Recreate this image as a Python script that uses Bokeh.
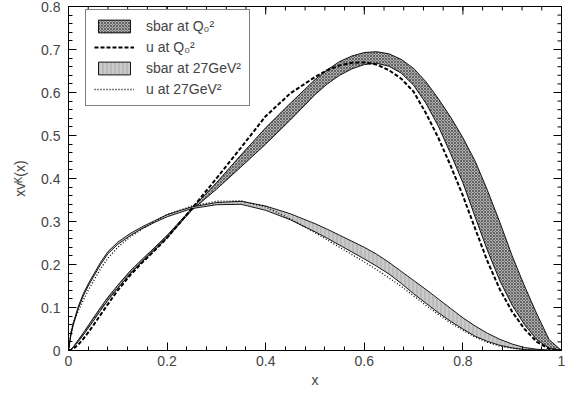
import math
from bokeh.plotting import figure
from bokeh.models import Legend, LegendItem, SingleIntervalTicker, CustomJSTickFormatter, Range1d
from bokeh.embed import file_html
from bokeh.resources import INLINE

# ---- data ----
x = [0, 0.005, 0.01, 0.02, 0.03, 0.04, 0.05, 0.065, 0.08, 0.1, 0.125, 0.15, 0.175, 0.2,
     0.25, 0.3, 0.35, 0.4, 0.45, 0.5, 0.525, 0.55, 0.575, 0.6, 0.625, 0.65, 0.675, 0.7,
     0.725, 0.75, 0.775, 0.8, 0.825, 0.85, 0.875, 0.9, 0.925, 0.95, 0.975, 1.0]

sbar_q0_hi = [0, 0.003, 0.009, 0.025, 0.041, 0.058, 0.075, 0.1, 0.124, 0.152, 0.185, 0.213, 0.24, 0.268,
              0.33, 0.39, 0.455, 0.518, 0.575, 0.63, 0.653, 0.672, 0.685, 0.693, 0.695, 0.69, 0.677, 0.656,
              0.625, 0.586, 0.543, 0.495, 0.44, 0.372, 0.298, 0.22, 0.15, 0.085, 0.025, 0]
sbar_q0_lo = [0, 0.002, 0.007, 0.021, 0.036, 0.052, 0.068, 0.093, 0.117, 0.145, 0.178, 0.207, 0.234, 0.262,
              0.326, 0.375, 0.427, 0.48, 0.536, 0.595, 0.62, 0.64, 0.655, 0.665, 0.668, 0.661, 0.645, 0.617,
              0.575, 0.522, 0.458, 0.39, 0.31, 0.232, 0.162, 0.105, 0.06, 0.025, 0.005, 0]
u_q0 = [0, 0.001, 0.004, 0.014, 0.027, 0.042, 0.058, 0.083, 0.108, 0.14, 0.175, 0.205, 0.233, 0.262,
        0.33, 0.40, 0.472, 0.545, 0.598, 0.636, 0.652, 0.663, 0.669, 0.67, 0.665, 0.652, 0.632, 0.602,
        0.552, 0.495, 0.43, 0.36, 0.283, 0.207, 0.142, 0.09, 0.05, 0.02, 0.004, 0]

sbar_27_hi = [0, 0.04, 0.065, 0.103, 0.132, 0.155, 0.175, 0.205, 0.23, 0.252, 0.272, 0.288, 0.302, 0.316,
              0.334, 0.344, 0.347, 0.336, 0.318, 0.295, 0.282, 0.268, 0.254, 0.24, 0.224, 0.205, 0.184, 0.163,
              0.142, 0.12, 0.098, 0.076, 0.057, 0.04, 0.026, 0.015, 0.007, 0.003, 0.001, 0]
sbar_27_lo = [0, 0.036, 0.06, 0.098, 0.127, 0.15, 0.17, 0.2, 0.225, 0.247, 0.267, 0.284, 0.298, 0.311,
              0.33, 0.339, 0.34, 0.326, 0.304, 0.276, 0.261, 0.245, 0.229, 0.213, 0.196, 0.178, 0.156, 0.132,
              0.11, 0.088, 0.068, 0.05, 0.033, 0.021, 0.012, 0.006, 0.002, 0.001, 0, 0]
u_27 = [0, 0.045, 0.065, 0.092, 0.117, 0.14, 0.16, 0.19, 0.215, 0.24, 0.264, 0.283, 0.3, 0.316,
        0.336, 0.347, 0.348, 0.334, 0.306, 0.274, 0.257, 0.24, 0.223, 0.206, 0.188, 0.169, 0.149, 0.127,
        0.105, 0.084, 0.064, 0.047, 0.031, 0.019, 0.01, 0.005, 0.002, 0, 0, 0]

legend_labels = ["sbar at Q\u2080\u00b2", "u at Q\u2080\u00b2", "sbar at 27GeV\u00b2", "u at 27GeV\u00b2"]
x_label = "x"
y_label = "xv\u1d37(x)"
x_tick_step, y_tick_step = 0.2, 0.1
n_minor = 5
x_max, y_max = 1.0, 0.8

FONT = "Liberation Sans"
FS = "14px"

p = figure(width=565, height=390, output_backend="svg", toolbar_location=None,
           x_range=Range1d(0, x_max), y_range=Range1d(0, y_max),
           min_border_left=68, min_border_right=4, min_border_top=6, min_border_bottom=10)
p.grid.visible = False
p.outline_line_color = "black"
p.outline_line_width = 1
p.background_fill_color = "white"

# band A: crosshatch
band_a = p.patch(x + x[::-1], sbar_q0_hi + sbar_q0_lo[::-1],
                 fill_color="#b0b0b0", hatch_pattern="x", hatch_color="#303030",
                 hatch_scale=3, hatch_weight=0.6, line_color="black", line_width=0.9)
# band B: light gray with faint vertical light stripes
band_b = p.patch(x + x[::-1], sbar_27_hi + sbar_27_lo[::-1],
                 fill_color="#bababa", hatch_pattern="|", hatch_color="#e2e2e2",
                 hatch_scale=4, hatch_weight=0.8, line_color="black", line_width=0.9)
l_u0 = p.line(x, u_q0, line_color="black", line_width=2, line_dash="4 2")
l_u27 = p.line(x, u_27, line_color="black", line_width=1.3, line_dash="1 2")

# mirrored ticks on the top and right edges (inside the frame)
xt_major = [i * x_tick_step for i in range(int(round(x_max / x_tick_step)) + 1)]
yt_major = [i * y_tick_step for i in range(int(round(y_max / y_tick_step)) + 1)]
xt_minor = [i * x_tick_step / n_minor for i in range(int(round(x_max / x_tick_step)) * n_minor + 1)]
yt_minor = [i * y_tick_step / n_minor for i in range(int(round(y_max / y_tick_step)) * n_minor + 1)]
p.ray(x=xt_major, y=[y_max] * len(xt_major), length=8, length_units="screen",
      angle=-math.pi / 2, line_color="black", line_width=1)
p.ray(x=xt_minor, y=[y_max] * len(xt_minor), length=4, length_units="screen",
      angle=-math.pi / 2, line_color="black", line_width=1)
p.ray(x=[x_max] * len(yt_major), y=yt_major, length=8, length_units="screen",
      angle=math.pi, line_color="black", line_width=1)
p.ray(x=[x_max] * len(yt_minor), y=yt_minor, length=4, length_units="screen",
      angle=math.pi, line_color="black", line_width=1)

legend = Legend(items=[LegendItem(label=legend_labels[0], renderers=[band_a]),
                       LegendItem(label=legend_labels[1], renderers=[l_u0]),
                       LegendItem(label=legend_labels[2], renderers=[band_b]),
                       LegendItem(label=legend_labels[3], renderers=[l_u27])],
                margin=0, border_line_color="black", border_line_width=1,
                label_text_font=FONT, label_text_font_size=FS,
                glyph_width=40, glyph_height=16, label_standoff=12,
                spacing=5, padding=8, background_fill_alpha=1)
legend.location = (17, 244)
p.add_layout(legend)

fmt = CustomJSTickFormatter(code="return String(Number(tick.toFixed(2)));")

for ax in (p.xaxis[0], p.yaxis[0]):
    ax.major_tick_in = 8
    ax.major_tick_out = 0
    ax.minor_tick_in = 4
    ax.minor_tick_out = 0
    ax.axis_line_color = "black"
    ax.major_tick_line_color = "black"
    ax.minor_tick_line_color = "black"
    ax.major_label_text_font = FONT
    ax.major_label_text_font_size = FS
    ax.axis_label_text_font = FONT
    ax.axis_label_text_font_size = FS
    ax.axis_label_text_font_style = "normal"
    ax.formatter = fmt

p.xaxis.ticker = SingleIntervalTicker(interval=x_tick_step, num_minor_ticks=n_minor)
p.yaxis.ticker = SingleIntervalTicker(interval=y_tick_step, num_minor_ticks=n_minor)
p.xaxis.axis_label = x_label
p.yaxis.axis_label = y_label
p.xaxis.major_label_standoff = 5
p.xaxis.axis_label_standoff = 3
p.yaxis.major_label_standoff = 8
p.yaxis.axis_label_standoff = 10

open("out.html", "w").write(file_html(p, INLINE))
